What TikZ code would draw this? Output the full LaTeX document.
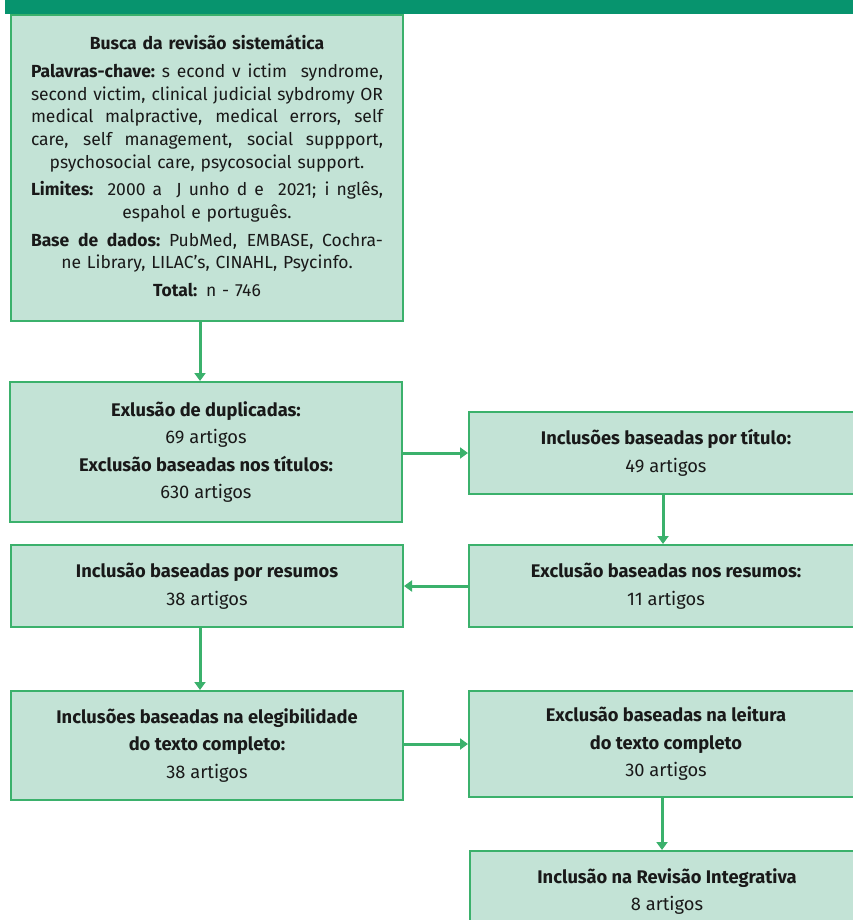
\documentclass[tikz,border=0pt]{standalone}
\usepackage{fontspec}
\setmainfont{Fira Sans}
\usetikzlibrary{arrows.meta}
\definecolor{banner}{HTML}{07946E}
\definecolor{boxfill}{HTML}{C3E3D6}
\definecolor{boxline}{HTML}{3BB16C}
\newcommand{\jstline}[1]{\hbox to 352pt{\spaceskip=\fontdimen2\font plus 1fil\relax\xspaceskip=\spaceskip #1}\par}
\newcommand{\ctrline}[1]{\hbox to 352pt{\hfil #1\hfil}\par}
\tikzset{
  flowbox/.style={draw=boxline, line width=2pt, fill=boxfill, rectangle, inner sep=0pt,
    align=center, text=black!90, font=\fontsize{18.3}{27.5}\selectfont},
  arr/.style={draw=boxline, line width=3pt, -{Triangle[width=11pt,length=8pt]}}
}
\begin{document}
\begin{tikzpicture}[x=1pt,y=-1pt]
\useasboundingbox (0,0) rectangle (853,920);
\clip (0,0) rectangle (853,920);
\fill[banner] (5,-2) rectangle (853,14);

\node[flowbox, minimum width=392pt, minimum height=306pt] (search) at (207,168) {};
\node[inner sep=0pt, text width=352pt, text=black!90, font=\fontsize{17.5}{22.7}\selectfont] (searchtxt) at (207,166) {%
\ctrline{\textbf{Busca da revisão sistemática}}\vspace{5pt}
\jstline{\textbf{Palavras-chave:} s econd v ictim \ syndrome,}
\jstline{second victim, clinical judicial sybdromy OR}
\jstline{medical malpractive, medical errors, self}
\jstline{care, self management, social suppport,}
\ctrline{psychosocial care, psycosocial support.}\vspace{5pt}
\jstline{\textbf{Limites:} \ 2000 a \ J unho d e \ 2021; i nglês,}
\ctrline{espahol e português.}\vspace{5pt}
\jstline{\textbf{Base de dados:} PubMed, EMBASE, Cochra-}
\ctrline{ne Library, LILAC’s, CINAHL, Psycinfo.}\vspace{5pt}
\ctrline{\textbf{Total:} n - 746}};

\node[flowbox, minimum width=392pt, minimum height=140pt] (dup) at (206,452)
  {\textbf{Exlusão de duplicadas:}\\69 artigos\\\textbf{Exclusão baseadas nos títulos:}\\630 artigos};

\node[flowbox, minimum width=394pt, minimum height=82pt] (titulo) at (666,453)
  {\textbf{Inclusões baseadas por título:}\\49 artigos};

\node[flowbox, minimum width=394pt, minimum height=82pt] (exres) at (666,586)
  {\textbf{Exclusão baseadas nos resumos:}\\11 artigos};

\node[flowbox, minimum width=392pt, minimum height=82pt] (incres) at (207,586)
  {\textbf{Inclusão baseadas por resumos}\\38 artigos};

\node[flowbox, minimum width=392pt, minimum height=109pt] (eleg) at (207,745.5)
  {\textbf{Inclusões baseadas na elegibilidade}\\\textbf{do texto completo:}\\38 artigos};

\node[flowbox, minimum width=394pt, minimum height=106pt] (leit) at (666,744)
  {\textbf{Exclusão baseadas na leitura}\\\textbf{do texto completo}\\30 artigos};

\node[flowbox, minimum width=394pt, minimum height=81pt, anchor=north] (final) at (667,850)
  {\textbf{Inclusão na Revisão Integrativa}\\8 artigos};

\draw[arr] ([xshift=-7pt]search.south) -- ([xshift=-7pt]search.south |- dup.north);
\draw[arr] (dup.east |- titulo.west) -- (titulo.west);
\draw[arr] ([xshift=-3pt]titulo.south) -- ([xshift=-3pt]titulo.south |- exres.north);
\draw[arr] (exres.west) -- (incres.east);
\draw[arr] ([xshift=-7pt]incres.south) -- ([xshift=-7pt]incres.south |- eleg.north);
\draw[arr] (eleg.east |- leit.west) -- (leit.west);
\draw[arr] ([xshift=-4pt]leit.south) -- ([xshift=-4pt]leit.south |- final.north);
\end{tikzpicture}
\end{document}
